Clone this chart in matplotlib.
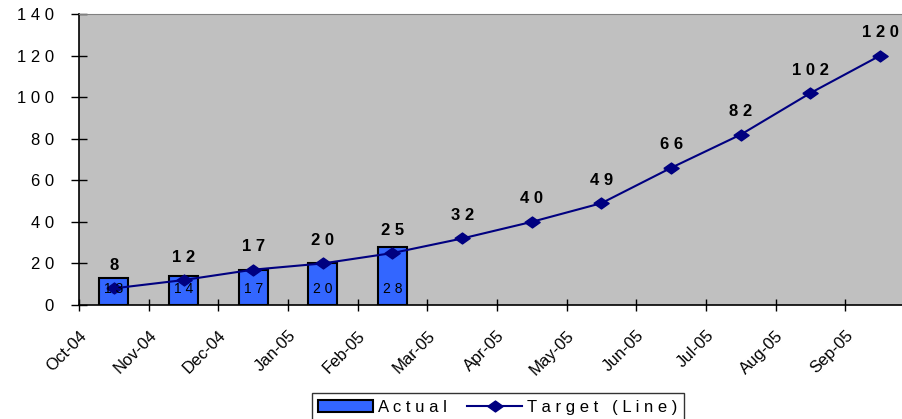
import numpy as np
import matplotlib
matplotlib.use("Agg")
import matplotlib.pyplot as plt

plt.rcParams['font.family'] = ['Liberation Sans', 'DejaVu Sans']

# Datos
meses = ["Oct-04", "Nov-04", "Dec-04", "Jan-05", "Feb-05", "Mar-05",
         "Apr-05", "May-05", "Jun-05", "Jul-05", "Aug-05", "Sep-05"]
actual = [13, 14, 17, 20, 28]
target = [8, 12, 17, 20, 25, 32, 40, 49, 66, 82, 102, 120]
y_ticks = [0, 20, 40, 60, 80, 100, 120, 140]


def espaciado(txt):
    return " ".join(str(txt))


# rombo achatado como en Excel
rombo = [(-1.4, 0), (0, 1), (1.4, 0), (0, -1), (-1.4, 0)]

fig = plt.figure(figsize=(9.02, 4.19), dpi=100)
ax = fig.add_axes([79 / 902, 114 / 419, 836 / 902, 291 / 419])
ax.set_facecolor("#c0c0c0")

x_act = np.arange(len(actual)) + 0.5
x_tar = np.arange(len(target)) + 0.5

barras = ax.bar(x_act, actual, width=0.42, color="#3366ff",
                edgecolor="black", linewidth=1.5, zorder=2)
linea, = ax.plot(x_tar, target, color="#000080", linewidth=1.5,
                 marker=rombo, markersize=11, zorder=3)

# Etiquetas dentro de las barras
for xi, v in zip(x_act, actual):
    ax.text(xi, 7.5, espaciado(v), ha="center", va="center",
            fontsize=10, color="black", zorder=4)

# Etiquetas sobre la linea
for xi, v in zip(x_tar, target):
    ax.annotate(espaciado(v), (xi, v), xytext=(0, 16.5),
                textcoords="offset points", ha="center", va="center",
                fontsize=12, fontweight="bold", zorder=5)

ax.set_xlim(0, 12)
ax.set_ylim(0, 140)
ax.set_yticks(y_ticks)
ax.set_yticklabels([espaciado(t) for t in y_ticks], fontsize=12)
ax.set_xticks(np.arange(len(meses)))
ax.set_xticklabels(meses, rotation=45, ha="right", va="top",
                   rotation_mode="anchor", fontsize=12)
ax.tick_params(axis="y", direction="inout", length=12, width=1, pad=12)
ax.tick_params(axis="x", direction="inout", length=9, width=1, pad=12)

ax.spines["left"].set_linewidth(1.2)
ax.spines["bottom"].set_linewidth(1.2)
ax.spines["top"].set_color("#808080")
ax.spines["right"].set_visible(False)

leg = fig.legend([barras, linea], [espaciado("Actual"), espaciado("Target (Line)")],
                 loc="upper center", bbox_to_anchor=(498 / 902, 1 - 393 / 419),
                 ncol=2, fontsize=12, frameon=True, fancybox=False,
                 handlelength=3.3, handleheight=0.7, columnspacing=1.2,
                 borderaxespad=0, handletextpad=0.3)
leg.get_frame().set_edgecolor("black")
leg.get_frame().set_linewidth(1)

fig.savefig("out.png", dpi=100)
plt.close(fig)
